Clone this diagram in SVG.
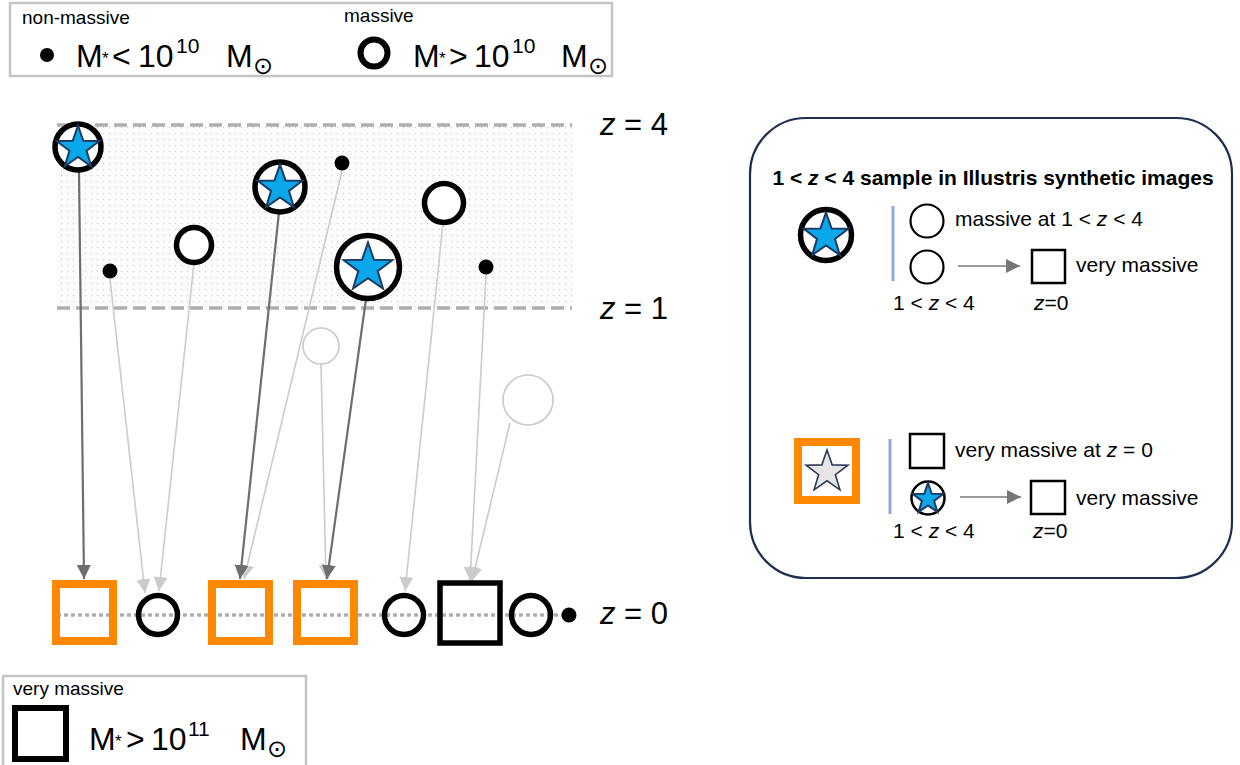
<svg xmlns="http://www.w3.org/2000/svg" xmlns:xlink="http://www.w3.org/1999/xlink" width="1240" height="765" viewBox="0 0 1240 765">
<style>
text { font-family: "Liberation Sans", "DejaVu Sans", Arial, sans-serif; fill: #000; }
.big { font-size: 32px; }
.sup { font-size: 21px; }
.sun { font-size: 24px; font-family: "DejaVu Sans", "Liberation Sans", sans-serif; }
.ast { font-size: 17px; }
.small { font-size: 19px; }
.p { font-size: 21px; }
.zl { font-size: 31px; }
.it { font-style: italic; }
.title { font-size: 21px; font-weight: bold; }
.ring { fill: #fff; stroke: #000; stroke-width: 5.5; }
.thin { fill: #fff; stroke: #000; stroke-width: 2.5; }
.dot { fill: #000; }
.faint { fill: #fff; stroke: #c8c8c8; stroke-width: 1.6; }
.osq { fill: none; stroke: #ff8800; stroke-width: 8; }
.bsq { fill: none; stroke: #000; stroke-width: 5.5; }
.bstar { fill: #0aa8ea; stroke: #1d3a62; stroke-width: 2; }
.gstar { fill: #e6e6e6; stroke: #2b3a58; stroke-width: 1.6; }
.dark { stroke: #6e6e6e; stroke-width: 2.2; fill: none; marker-end: url(#ahDark); }
.light { stroke: #cbcbcb; stroke-width: 1.6; fill: none; marker-end: url(#ahLight); }
.pan { stroke: #777; stroke-width: 1.6; fill: none; marker-end: url(#ahPanel); }
.dash { stroke: #aeaeae; stroke-width: 3.5; stroke-dasharray: 13 6; fill: none; }
.dots0 { stroke: #aeaeae; stroke-width: 3.5; stroke-dasharray: 4 3; fill: none; }
.legbox { fill: #fff; stroke: #c4c4c4; stroke-width: 2.5; }
.vbar { stroke: #8eaadb; stroke-width: 3; }
</style>
<defs>
  <pattern id="band" width="6" height="6" patternUnits="userSpaceOnUse">
    <rect width="6" height="6" fill="#fcfcfc"/>
    <circle cx="1.5" cy="1.5" r="0.7" fill="#cdcdcd"/>
  </pattern>
  <polygon id="star" vector-effect="non-scaling-stroke" points="0,-10 2.351,-3.236 9.511,-3.09 3.804,1.236 5.878,8.09 0,4 -5.878,8.09 -3.804,1.236 -9.511,-3.09 -2.351,-3.236"/>
  <marker id="ahDark" markerUnits="userSpaceOnUse" markerWidth="15" markerHeight="14" refX="14" refY="7" orient="auto" viewBox="0 0 15 14">
    <path d="M0,0 L14,7 L0,14 z" fill="#6e6e6e"/>
  </marker>
  <marker id="ahLight" markerUnits="userSpaceOnUse" markerWidth="15" markerHeight="14" refX="14" refY="7" orient="auto" viewBox="0 0 15 14">
    <path d="M0,0 L14,7 L0,14 z" fill="#cbcbcb"/>
  </marker>
  <marker id="ahPanel" markerUnits="userSpaceOnUse" markerWidth="15" markerHeight="14" refX="14" refY="7" orient="auto" viewBox="0 0 15 14">
    <path d="M0,0 L14,7 L0,14 z" fill="#777"/>
  </marker>
</defs>

<rect width="1240" height="765" fill="#fff"/>

<!-- top legend -->
<g id="legend-top">
  <rect class="legbox" x="10" y="3" width="602" height="73"/>
  <text class="small" x="22" y="24">non-massive</text>
  <circle class="dot" cx="47" cy="55" r="7"/>
  <text class="big" y="67"><tspan x="76">M</tspan><tspan class="ast" x="102" y="64">*</tspan><tspan x="112" y="67">&lt;</tspan><tspan x="138">10</tspan><tspan class="sup" x="176" y="53">10</tspan><tspan x="226" y="67">M</tspan><tspan class="sun" x="253" y="74">⊙</tspan></text>
  <text class="small" x="344" y="22">massive</text>
  <circle class="ring" cx="374" cy="53" r="13.5" style="stroke-width:6"/>
  <text class="big" y="67"><tspan x="413">M</tspan><tspan class="ast" x="439" y="64">*</tspan><tspan x="449" y="67">&gt;</tspan><tspan x="474">10</tspan><tspan class="sup" x="512" y="53">10</tspan><tspan x="561" y="67">M</tspan><tspan class="sun" x="588" y="74">⊙</tspan></text>
</g>

<!-- redshift band -->
<g id="band-region">
  <rect x="57" y="125" width="515" height="183" fill="url(#band)"/>
  <line class="dash" x1="57" y1="125" x2="572" y2="125"/>
  <line class="dash" x1="57" y1="308" x2="572" y2="308"/>
  <line class="dots0" x1="57" y1="615" x2="566" y2="615"/>
  <text class="zl" x="600" y="135"><tspan class="it">z</tspan> = 4</text>
  <text class="zl" x="600" y="319"><tspan class="it">z</tspan> = 1</text>
  <text class="zl" x="600" y="624"><tspan class="it">z</tspan> = 0</text>
</g>

<!-- connectors -->
<g id="connectors">
  <line class="light" x1="110" y1="279" x2="145" y2="593"/>
  <line class="light" x1="194" y1="263" x2="159" y2="591"/>
  <line class="light" x1="342" y1="171" x2="244" y2="579"/>
  <line class="light" x1="321" y1="364" x2="326" y2="579"/>
  <line class="light" x1="443" y1="223" x2="405" y2="591"/>
  <line class="light" x1="486" y1="275" x2="470" y2="581"/>
  <line class="light" x1="510" y1="423" x2="472" y2="581"/>
  <line class="dark" x1="79" y1="172" x2="84" y2="579"/>
  <line class="dark" x1="279" y1="212" x2="240" y2="579"/>
  <line class="dark" x1="366" y1="299" x2="327" y2="579"/>
</g>

<!-- high-z galaxies -->
<g id="g-star1"><circle class="ring" cx="78" cy="147" r="23"/><use href="#star" class="bstar" transform="translate(78,148) scale(2.25)"/></g>
<g id="g-star2"><circle class="ring" cx="280" cy="187" r="25"/><use href="#star" class="bstar" transform="translate(280,188) scale(2.35)"/></g>
<g id="g-star3"><circle class="ring" cx="368" cy="267" r="31.5"/><use href="#star" class="bstar" transform="translate(368,268) scale(2.55)"/></g>
<g id="g-dot1"><circle class="dot" cx="342" cy="163" r="7.5"/></g>
<g id="g-dot2"><circle class="dot" cx="110" cy="271" r="7.5"/></g>
<g id="g-dot3"><circle class="dot" cx="486" cy="267" r="7.5"/></g>
<g id="g-circ1"><circle class="ring" cx="194" cy="245" r="17.5"/></g>
<g id="g-circ2"><circle class="ring" cx="444" cy="203" r="19.5"/></g>
<g id="g-faint1"><circle class="faint" cx="321" cy="346" r="18"/></g>
<g id="g-faint2"><circle class="faint" cx="528" cy="400" r="25"/></g>

<!-- z=0 descendants -->
<g id="d-sq1"><rect class="osq" x="56" y="584" width="57" height="57"/></g>
<g id="d-c1"><circle class="ring" cx="158" cy="615" r="19.5" style="fill:none"/></g>
<g id="d-sq2"><rect class="osq" x="212" y="584" width="57" height="57"/></g>
<g id="d-sq3"><rect class="osq" x="297" y="584" width="57" height="57"/></g>
<g id="d-c2"><circle class="ring" cx="404" cy="615" r="19.5" style="fill:none"/></g>
<g id="d-sq4"><rect class="bsq" x="440" y="583" width="60" height="60"/></g>
<g id="d-c3"><circle class="ring" cx="531" cy="615" r="19.5" style="fill:none"/></g>
<g id="d-dot"><circle class="dot" cx="569" cy="615" r="7.5"/></g>

<!-- right panel -->
<g id="panel">
  <rect x="750" y="118" width="482" height="460" rx="56" ry="56" fill="#fff" stroke="#1f2f52" stroke-width="2.2"/>
  <text class="title" x="993" y="185" text-anchor="middle">1 &lt; <tspan class="it">z</tspan> &lt; 4 sample in Illustris synthetic images</text>

  <circle class="ring" cx="826" cy="235" r="25.5"/>
  <use href="#star" class="bstar" transform="translate(826,236) scale(2.35)"/>
  <line class="vbar" x1="893" y1="206" x2="893" y2="281"/>
  <circle class="thin" cx="927" cy="221" r="16.5" style="stroke-width:2.2"/>
  <text class="p" x="955" y="226">massive at 1 &lt; <tspan class="it">z</tspan> &lt; 4</text>
  <circle class="thin" cx="927" cy="267" r="16.5" style="stroke-width:2.2"/>
  <line class="pan" x1="958" y1="266" x2="1020" y2="266"/>
  <rect class="thin" x="1032" y="250" width="33" height="33" style="stroke-width:2.5"/>
  <text class="p" x="1076" y="272">very massive</text>
  <text class="p" x="893" y="310">1 &lt; <tspan class="it">z</tspan> &lt; 4</text>
  <text class="p" x="1034" y="310"><tspan class="it">z</tspan>=0</text>

  <rect class="osq" x="798" y="442" width="58" height="58" style="fill:#fff"/>
  <use href="#star" class="gstar" transform="translate(827,472) scale(2.2)"/>
  <line class="vbar" x1="890" y1="439" x2="890" y2="514"/>
  <rect class="thin" x="910" y="434" width="34" height="34" style="stroke-width:2.5"/>
  <text class="p" x="955" y="457">very massive at <tspan class="it">z</tspan> = 0</text>
  <circle class="thin" cx="928" cy="498" r="16.5" style="stroke-width:2.5"/>
  <use href="#star" class="bstar" transform="translate(928,499) scale(1.6)"/>
  <line class="pan" x1="960" y1="497" x2="1021" y2="497"/>
  <rect class="thin" x="1031" y="481" width="34" height="33" style="stroke-width:2.5"/>
  <text class="p" x="1076" y="505">very massive</text>
  <text class="p" x="893" y="538">1 &lt; <tspan class="it">z</tspan> &lt; 4</text>
  <text class="p" x="1033" y="538"><tspan class="it">z</tspan>=0</text>
</g>

<!-- bottom legend -->
<g id="legend-bottom">
  <rect class="legbox" x="3" y="676" width="303" height="100"/>
  <text class="small" x="13" y="695">very massive</text>
  <rect class="bsq" x="15" y="708" width="51" height="51" style="stroke-width:6"/>
  <text class="big" y="750"><tspan x="89">M</tspan><tspan class="ast" x="115" y="747">*</tspan><tspan x="126" y="750">&gt;</tspan><tspan x="151">10</tspan><tspan class="sup" x="188" y="736">11</tspan><tspan x="240" y="750">M</tspan><tspan class="sun" x="267" y="757">⊙</tspan></text>
</g>
</svg>
